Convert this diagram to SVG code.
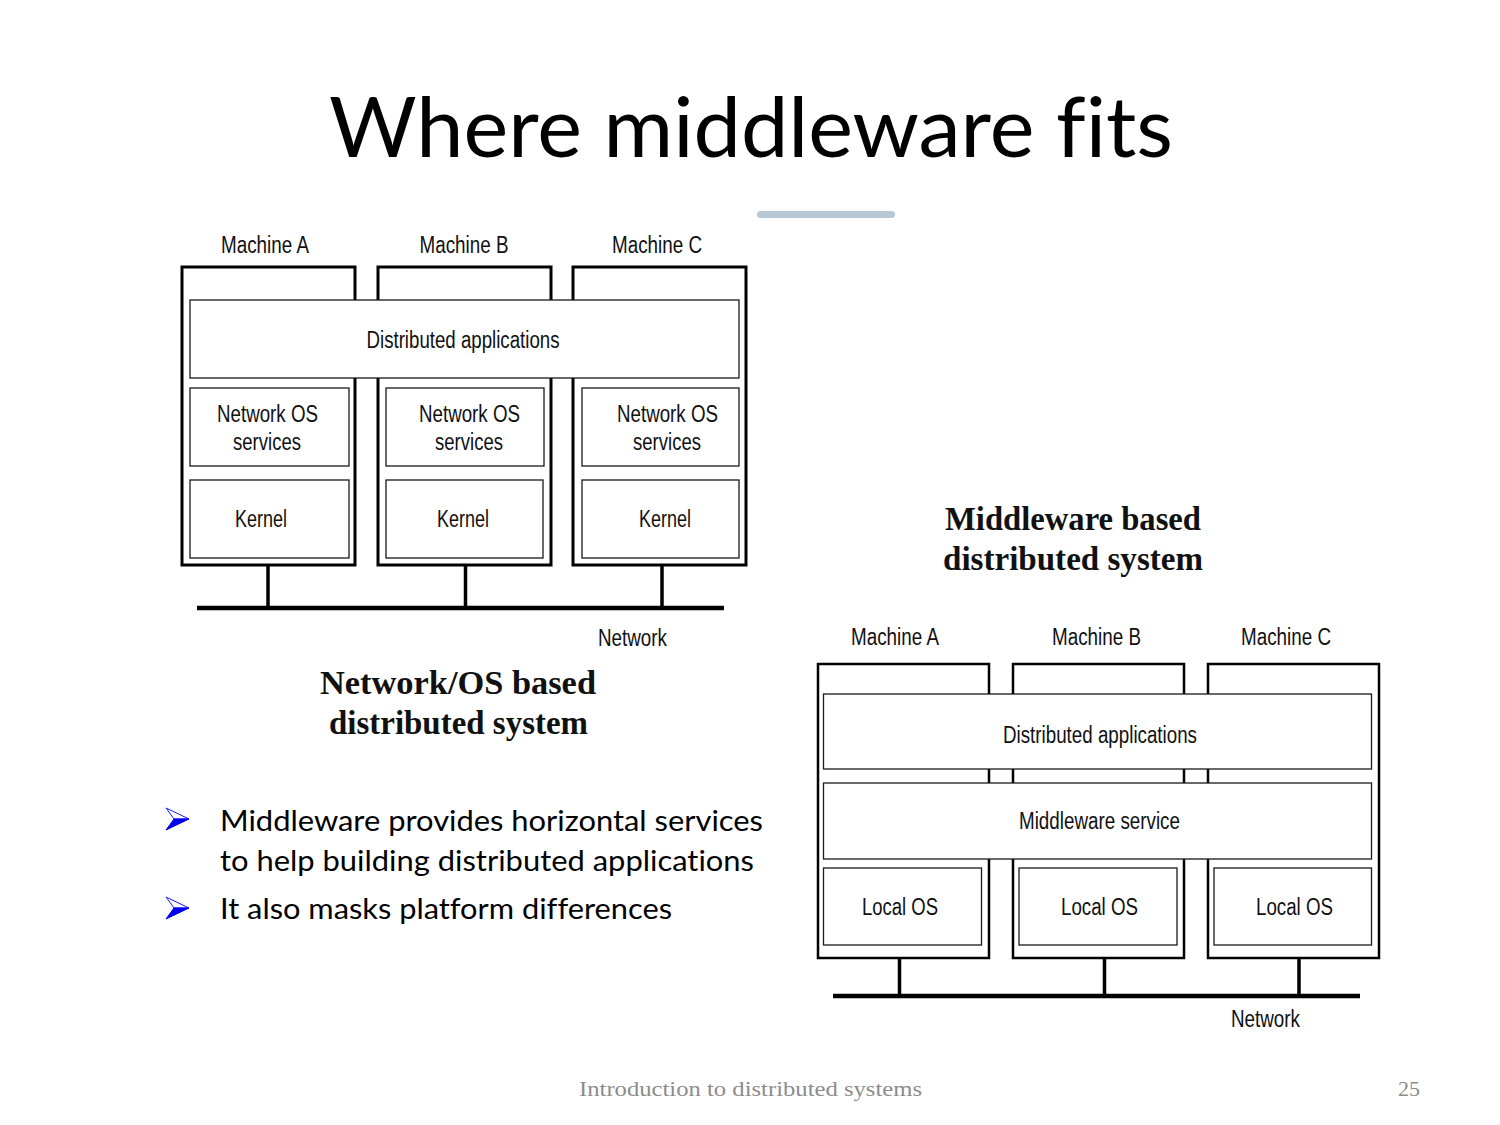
<svg xmlns="http://www.w3.org/2000/svg" width="1500" height="1125" viewBox="0 0 1500 1125">
  <style>
    .machine { fill: #ffffff; stroke: #000000; stroke-width: 3; }
    .machine2 { fill: #ffffff; stroke: #000000; stroke-width: 2.5; }
    .layer { fill: #ffffff; stroke: #1a1a1a; stroke-width: 1.3; }
    .wire { fill: none; stroke: #000000; stroke-width: 3.5; }
    .bus { fill: none; stroke: #000000; stroke-width: 4.5; }
    .lbl { font-family: "Liberation Sans", Arial, sans-serif; font-size: 23px; fill: #111111; text-anchor: middle; }
    .cap { font-family: "Liberation Serif", "Times New Roman", serif; font-size: 33px; font-weight: bold; fill: #111111; text-anchor: middle; }
    .body { font-family: Lato, "Open Sans", sans-serif; font-size: 29px; fill: #000000; font-variant-ligatures: none; }
    .foot { font-family: "Liberation Serif", "Times New Roman", serif; font-size: 22px; fill: #8c8c8c; }
  </style>

  <rect x="0" y="0" width="1500" height="1125" fill="#ffffff"/>

  <!-- Title -->
  <g id="title">
    <text x="751" y="157" font-family="Lato, 'Open Sans', sans-serif" font-size="84" fill="#000000" text-anchor="middle" textLength="844" lengthAdjust="spacingAndGlyphs" style="font-variant-ligatures: none">Where middleware fits</text>
    <rect x="757" y="211" width="138" height="7" rx="3.5" fill="#b8c7d4"/>
  </g>

  <!-- Network/OS based distributed system -->
  <g id="netos-diagram">
    <g id="netos-machine-a">
      <rect class="machine" x="182" y="267" width="173" height="298"/>
      <text class="lbl" x="265" y="253" textLength="88" lengthAdjust="spacingAndGlyphs">Machine A</text>
    </g>
    <g id="netos-machine-b">
      <rect class="machine" x="378" y="267" width="173" height="298"/>
      <text class="lbl" x="464" y="253" textLength="89" lengthAdjust="spacingAndGlyphs">Machine B</text>
    </g>
    <g id="netos-machine-c">
      <rect class="machine" x="573" y="267" width="173" height="298"/>
      <text class="lbl" x="657" y="253" textLength="90" lengthAdjust="spacingAndGlyphs">Machine C</text>
    </g>
    <g id="netos-apps">
      <rect class="layer" x="190" y="300" width="549" height="78"/>
      <text class="lbl" x="463" y="348" textLength="193" lengthAdjust="spacingAndGlyphs">Distributed applications</text>
    </g>
    <g id="netos-services-a">
      <rect class="layer" x="190" y="388" width="159" height="78"/>
      <text class="lbl" x="267.5" y="422" textLength="101" lengthAdjust="spacingAndGlyphs">Network OS</text>
      <text class="lbl" x="267" y="450" textLength="68" lengthAdjust="spacingAndGlyphs">services</text>
    </g>
    <g id="netos-services-b">
      <rect class="layer" x="386" y="388" width="158" height="78"/>
      <text class="lbl" x="469.5" y="422" textLength="101" lengthAdjust="spacingAndGlyphs">Network OS</text>
      <text class="lbl" x="469" y="450" textLength="68" lengthAdjust="spacingAndGlyphs">services</text>
    </g>
    <g id="netos-services-c">
      <rect class="layer" x="582" y="388" width="157" height="78"/>
      <text class="lbl" x="667.5" y="422" textLength="101" lengthAdjust="spacingAndGlyphs">Network OS</text>
      <text class="lbl" x="667" y="450" textLength="68" lengthAdjust="spacingAndGlyphs">services</text>
    </g>
    <g id="netos-kernel-a">
      <rect class="layer" x="190" y="480" width="159" height="78"/>
      <text class="lbl" x="261" y="527" textLength="52" lengthAdjust="spacingAndGlyphs">Kernel</text>
    </g>
    <g id="netos-kernel-b">
      <rect class="layer" x="386" y="480" width="157" height="78"/>
      <text class="lbl" x="463" y="527" textLength="52" lengthAdjust="spacingAndGlyphs">Kernel</text>
    </g>
    <g id="netos-kernel-c">
      <rect class="layer" x="582" y="480" width="157" height="78"/>
      <text class="lbl" x="665" y="527" textLength="52" lengthAdjust="spacingAndGlyphs">Kernel</text>
    </g>
    <g id="netos-connectors">
      <line class="wire" x1="268" y1="566" x2="268" y2="608"/>
      <line class="wire" x1="465.5" y1="566" x2="465.5" y2="608"/>
      <line class="wire" x1="662" y1="566" x2="662" y2="608"/>
      <line class="bus" x1="197" y1="608" x2="724" y2="608"/>
    </g>
    <text class="lbl" x="632.5" y="646" textLength="69" lengthAdjust="spacingAndGlyphs">Network</text>
    <text class="cap" x="458" y="694" textLength="276" lengthAdjust="spacingAndGlyphs">Network/OS based</text>
    <text class="cap" x="458.5" y="734" textLength="259" lengthAdjust="spacingAndGlyphs">distributed system</text>
  </g>

  <!-- Middleware based distributed system -->
  <g id="mw-diagram">
    <text class="cap" x="1073" y="530" textLength="256" lengthAdjust="spacingAndGlyphs">Middleware based</text>
    <text class="cap" x="1073" y="570" textLength="260" lengthAdjust="spacingAndGlyphs">distributed system</text>
    <g id="mw-machine-a">
      <rect class="machine2" x="818" y="664" width="171" height="294"/>
      <text class="lbl" x="895" y="645" textLength="88" lengthAdjust="spacingAndGlyphs">Machine A</text>
    </g>
    <g id="mw-machine-b">
      <rect class="machine2" x="1013" y="664" width="171" height="294"/>
      <text class="lbl" x="1096.5" y="645" textLength="89" lengthAdjust="spacingAndGlyphs">Machine B</text>
    </g>
    <g id="mw-machine-c">
      <rect class="machine2" x="1208" y="664" width="171" height="294"/>
      <text class="lbl" x="1286" y="645" textLength="90" lengthAdjust="spacingAndGlyphs">Machine C</text>
    </g>
    <g id="mw-apps">
      <rect class="layer" x="823.5" y="694" width="548" height="75"/>
      <text class="lbl" x="1100" y="743" textLength="194" lengthAdjust="spacingAndGlyphs">Distributed applications</text>
    </g>
    <g id="mw-service">
      <rect class="layer" x="823.5" y="783" width="548" height="76"/>
      <text class="lbl" x="1099.5" y="829" textLength="161" lengthAdjust="spacingAndGlyphs">Middleware service</text>
    </g>
    <g id="mw-local-a">
      <rect class="layer" x="823.5" y="868" width="158" height="77"/>
      <text class="lbl" x="900" y="915" textLength="76" lengthAdjust="spacingAndGlyphs">Local OS</text>
    </g>
    <g id="mw-local-b">
      <rect class="layer" x="1019" y="868" width="158" height="77"/>
      <text class="lbl" x="1099.5" y="915" textLength="77" lengthAdjust="spacingAndGlyphs">Local OS</text>
    </g>
    <g id="mw-local-c">
      <rect class="layer" x="1214" y="868" width="157.5" height="77"/>
      <text class="lbl" x="1294.5" y="915" textLength="77" lengthAdjust="spacingAndGlyphs">Local OS</text>
    </g>
    <g id="mw-connectors">
      <line class="wire" x1="899.5" y1="958" x2="899.5" y2="996" stroke-width="3"/>
      <line class="wire" x1="1104.5" y1="958" x2="1104.5" y2="996" stroke-width="3"/>
      <line class="wire" x1="1299" y1="958" x2="1299" y2="996" stroke-width="3"/>
      <line class="bus" x1="833" y1="996" x2="1360" y2="996" stroke-width="4.2"/>
    </g>
    <text class="lbl" x="1265.5" y="1027" textLength="69" lengthAdjust="spacingAndGlyphs">Network</text>
  </g>

  <!-- Bullet points -->
  <g id="bullets">
    <defs>
      <g id="arrow-bullet">
        <polygon points="0,0 23,11 8,11" fill="#ffffff" stroke="#1a1aff" stroke-width="1"/>
        <polygon points="0,22 23,11 8,11" fill="#0000ee" stroke="#0000ee" stroke-width="1"/>
      </g>
    </defs>
    <use href="#arrow-bullet" x="166" y="808"/>
    <use href="#arrow-bullet" x="166" y="897"/>
    <text class="body" x="220" y="831" textLength="543" lengthAdjust="spacingAndGlyphs">Middleware provides horizontal services</text>
    <text class="body" x="220" y="871" textLength="534" lengthAdjust="spacingAndGlyphs">to help building distributed applications</text>
    <text class="body" x="220" y="919" textLength="452" lengthAdjust="spacingAndGlyphs">It also masks platform differences</text>
  </g>

  <!-- Footer -->
  <g id="footer">
    <text class="foot" x="750.5" y="1096" text-anchor="middle" textLength="343" lengthAdjust="spacingAndGlyphs">Introduction to distributed systems</text>
    <text class="foot" x="1420" y="1096" text-anchor="end">25</text>
  </g>
</svg>
